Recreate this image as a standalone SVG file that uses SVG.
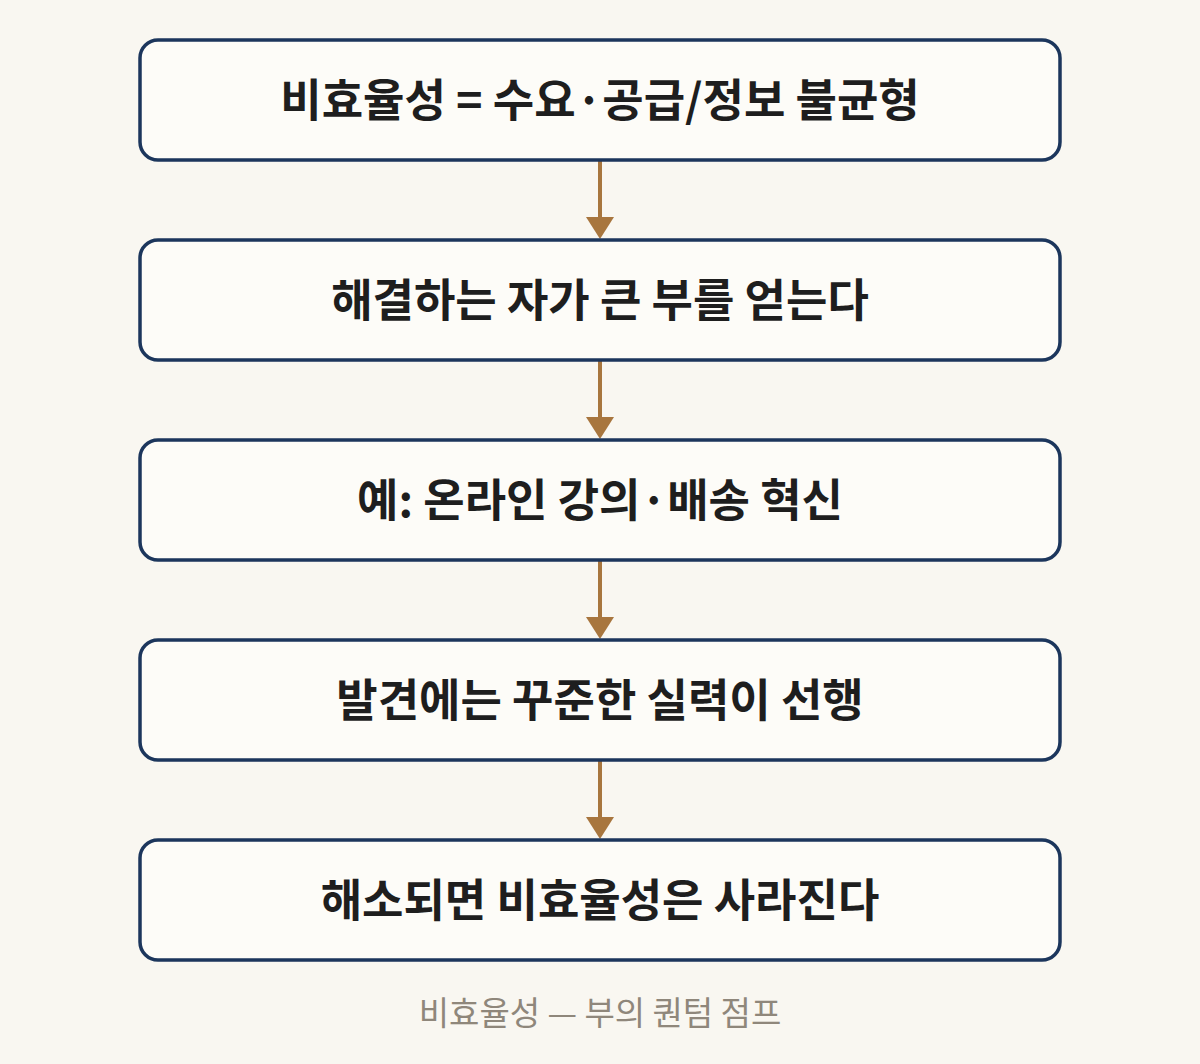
<svg xmlns="http://www.w3.org/2000/svg" width="1200" height="1064" viewBox="0 0 1200 1064">
<defs>
<style>
.box{fill:#FDFCF8;stroke:#1C365C;stroke-width:3.5}
.lbl{font-family:"Noto Sans CJK KR","Noto Sans",sans-serif;font-weight:700;font-size:45px;fill:#1E1E1E;text-anchor:middle}
.cap{font-family:"Noto Sans CJK KR","Noto Sans",sans-serif;font-weight:400;font-size:33px;fill:#8F877B;text-anchor:middle}
.edge{stroke:#A8763E;stroke-width:4;fill:none}
.head{fill:#A8763E}
</style>
</defs>
<rect width="1200" height="1064" fill="#F9F7F1"/>
<g id="connectors">
<line class="edge" x1="600" y1="160" x2="600" y2="220"/><polygon class="head" points="586,217 614,217 600,239"/>
<line class="edge" x1="600" y1="360" x2="600" y2="420"/><polygon class="head" points="586,417 614,417 600,439"/>
<line class="edge" x1="600" y1="560" x2="600" y2="620"/><polygon class="head" points="586,617 614,617 600,639"/>
<line class="edge" x1="600" y1="760" x2="600" y2="820"/><polygon class="head" points="586,817 614,817 600,839"/>
</g>
<g id="node1"><rect class="box" x="140" y="40" width="920" height="120" rx="18"/><text class="lbl" x="600" y="117">비효율성 = 수요·공급/정보 불균형</text></g>
<g id="node2"><rect class="box" x="140" y="240" width="920" height="120" rx="18"/><text class="lbl" x="600" y="317">해결하는 자가 큰 부를 얻는다</text></g>
<g id="node3"><rect class="box" x="140" y="440" width="920" height="120" rx="18"/><text class="lbl" x="600" y="517">예: 온라인 강의·배송 혁신</text></g>
<g id="node4"><rect class="box" x="140" y="640" width="920" height="120" rx="18"/><text class="lbl" x="600" y="717">발견에는 꾸준한 실력이 선행</text></g>
<g id="node5"><rect class="box" x="140" y="840" width="920" height="120" rx="18"/><text class="lbl" x="600" y="917">해소되면 비효율성은 사라진다</text></g>
<text class="cap" x="600" y="1025">비효율성 — 부의 퀀텀 점프</text>
</svg>
